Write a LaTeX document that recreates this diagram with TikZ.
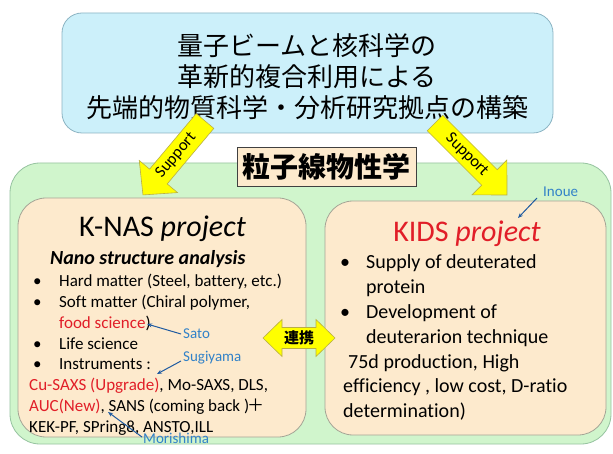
\documentclass[tikz,border=0pt]{standalone}
\usepackage{fontspec}
\setmainfont{Carlito}[Ligatures=NoCommon]
\newfontfamily\jp{Noto Sans CJK JP}
\usetikzlibrary{arrows.meta}
\definecolor{cyanfill}{RGB}{204,240,250}
\definecolor{cyanline}{RGB}{140,180,195}
\definecolor{greenfill}{RGB}{208,245,204}
\definecolor{greenline}{RGB}{150,195,160}
\definecolor{beigefill}{RGB}{253,234,205}
\definecolor{beigeline}{RGB}{165,165,150}
\definecolor{myred}{RGB}{225,30,40}
\definecolor{notetext}{RGB}{50,130,200}
\definecolor{notearrow}{RGB}{30,90,160}
\definecolor{arrowyellow}{RGB}{255,255,0}
\definecolor{arrowline}{RGB}{185,175,70}
\begin{document}
\begin{tikzpicture}[x=1pt,y=-1pt,
  panel/.style={rounded corners=#1, line width=0.8pt, inner sep=0pt},
  cyanbox/.style={panel=20pt, draw=cyanline, fill=cyanfill},
  greenbox/.style={panel=30pt, draw=greenline, fill=greenfill},
  beigebox/.style={panel=28pt, draw=beigeline, fill=beigefill},
  labelbox/.style={draw=black!75, line width=0.8pt, fill=beigefill, inner sep=0pt,
    font=\jp\bfseries\fontsize{28}{30}\selectfont},
  titleline/.style={inner sep=0pt, anchor=base, font=\jp\fontsize{26}{31}\selectfont},
  projtitle/.style={inner sep=0pt, anchor=base, font=\fontsize{30}{34}\selectfont},
  lefttxt/.style={inner sep=0pt, anchor=base west, font=\fontsize{17}{20}\selectfont},
  righttxt/.style={inner sep=0pt, anchor=base west, font=\fontsize{20}{24}\selectfont},
  notetxt/.style={inner sep=1pt, anchor=base west, text=notetext, font=\fontsize{15}{17}\selectfont},
  notearr/.style={draw=notearrow, line width=1pt, -{Stealth[length=5pt,width=4pt]}},
  blockarrow/.style={fill=arrowyellow, draw=arrowline, line width=0.6pt, line join=miter},
  arrowtxt/.style={inner sep=0pt, font=\fontsize{16.5}{18}\selectfont}
]
\useasboundingbox (0,0) rectangle (613,454);
\fill[white] (0,0) rectangle (613,454);

% top title box
\node[cyanbox, minimum width=491pt, minimum height=120pt] (top) at (307.5,73) {};
\node[titleline] (t1) at (307,56) {量子ビームと核科学の};
\node[titleline] (t2) at (307,87) {革新的複合利用による};
\node[titleline] (t3) at (307,118) {先端的物質科学・分析研究拠点の構築};

% green area
\node[greenbox, minimum width=601pt, minimum height=281pt] (green) at (310.5,303.5) {};
\node[labelbox, minimum width=179pt, minimum height=39pt] (label) at (326.5,166.5) {粒子線物性学};

% project boxes
\node[beigebox, minimum width=288pt, minimum height=239pt] (knas) at (162,317.5) {};
\node[beigebox, minimum width=281pt, minimum height=234pt] (kids) at (465.5,318) {};

% support arrows
\begin{scope}[shift={(205,121)}, rotate=-130]
  \draw[blockarrow] (0,-11.5) -- (72.5,-11.5) -- (72.5,-25) -- (96.5,0) -- (72.5,25) -- (72.5,11.5) -- (0,11.5) -- cycle;
  \node[arrowtxt, rotate=50] (supL) at (45,0) {Support};
\end{scope}
\begin{scope}[shift={(435,123)}, rotate=-45]
  \draw[blockarrow] (0,-11) -- (77,-11) -- (77,-24.7) -- (101.8,0) -- (77,24.7) -- (77,11) -- (0,11) -- cycle;
  \node[arrowtxt, rotate=-45] (supR) at (45,0) {Support};
\end{scope}

% cooperation double arrow
\draw[blockarrow] (263,338) -- (282,319.5) -- (282,327.5) -- (316,327.5) -- (316,319.5) -- (335,338)
  -- (316,356.5) -- (316,348.5) -- (282,348.5) -- (282,356.5) -- cycle;
\node[inner sep=0pt, font=\jp\bfseries\fontsize{15}{17}\selectfont] (renkei) at (299,338) {連携};

% K-NAS text
\node[projtitle] (knasT) at (162.5,237) {K-NAS \textit{project}};
\node[inner sep=0pt, anchor=base west, font=\bfseries\itshape\fontsize{20}{24}\selectfont] (nano) at (50,265) {Nano structure analysis};
\node[lefttxt] (k1) at (33,287) {\makebox[26pt][l]{•}Hard matter (Steel, battery, etc.)};
\node[lefttxt] (k2) at (33,308) {\makebox[26pt][l]{•}Soft matter (Chiral polymer,};
\node[lefttxt] (k3) at (59,328.5) {\textcolor{myred}{food science})};
\node[lefttxt] (k4) at (33,349) {\makebox[26pt][l]{•}Life science};
\node[lefttxt] (k5) at (33,369) {\makebox[26pt][l]{•}Instruments :};
\node[lefttxt] (k6) at (29,390) {\textcolor{myred}{Cu-SAXS (Upgrade)}, Mo-SAXS, DLS,};
\node[lefttxt] (k7) at (29,411) {\textcolor{myred}{AUC(New)}, SANS (coming back )\kern-2pt{\jp ＋}};
\node[lefttxt] (k8) at (29,432) {KEK-PF, SPring8, ANSTO,ILL};

% KIDS text
\node[projtitle, text=myred] (kidsT) at (467,242) {KIDS \textit{project}};
\node[righttxt] (d1) at (340,269) {\makebox[26pt][l]{•}Supply of deuterated};
\node[righttxt] (d2) at (366,294) {protein};
\node[righttxt] (d3) at (340,318.5) {\makebox[26pt][l]{•}Development of};
\node[righttxt] (d4) at (366,343) {deuterarion technique};
\node[righttxt] (d5) at (348,368) {75d production, High};
\node[righttxt] (d6) at (343,392.5) {efficiency , low cost, D-ratio};
\node[righttxt] (d7) at (343,417) {determination)};

% annotations
\node[notetxt] (sato) at (182,338) {Sato};
\node[notetxt] (sugi) at (182,361) {Sugiyama};
\node[notetxt] (mori) at (142,443) {Morishima};
\node[notetxt] (inoue) at (542,197) {Inoue};
\coordinate (satoTip) at (147,324);
\coordinate (sugiTip) at (157,374);
\coordinate (moriTip) at (108,412);
\coordinate (inoueTip) at (518,218);
\coordinate (satoFrom) at (181,334);
\coordinate (sugiFrom) at (181,361);
\coordinate (moriFrom) at (142,437);
\coordinate (inoueFrom) at (537,198);
\draw[notearr] (satoFrom) -- (satoTip);
\draw[notearr] (sugiFrom) -- (sugiTip);
\draw[notearr] (moriFrom) -- (moriTip);
\draw[notearr] (inoueFrom) -- (inoueTip);
\end{tikzpicture}
\end{document}
